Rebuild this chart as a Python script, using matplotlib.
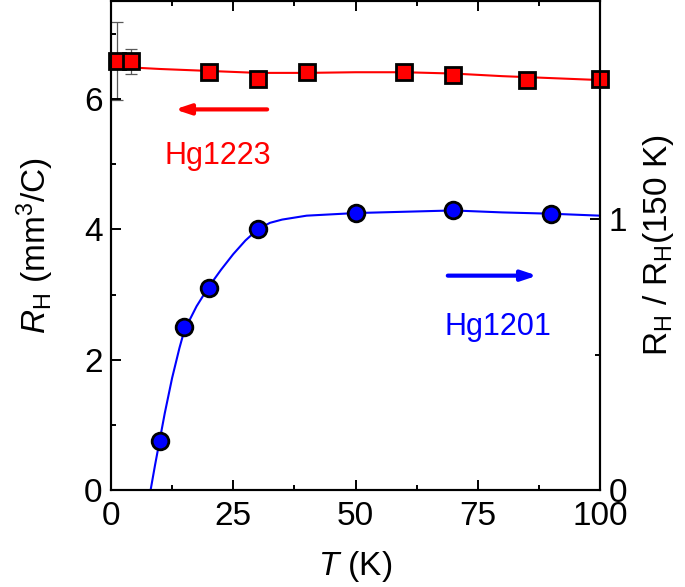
import matplotlib
matplotlib.use("Agg")
import matplotlib.pyplot as plt
from matplotlib.ticker import MultipleLocator, FixedLocator

plt.rcParams['font.family'] = ['Liberation Sans', 'DejaVu Sans']
plt.rcParams['mathtext.fontset'] = 'custom'
plt.rcParams['mathtext.rm'] = 'Liberation Sans'
plt.rcParams['mathtext.it'] = 'Liberation Sans:italic'

# Hg1223 (left axis, mm^3/C)
t_1223 = [1.2, 4.1, 20, 30, 40, 60, 70, 85, 100]
rh_1223 = [6.58, 6.58, 6.42, 6.31, 6.41, 6.42, 6.36, 6.29, 6.30]
err_1223 = [0.60, 0.19, 0, 0, 0, 0, 0, 0, 0]
fit_t_1223 = [0, 10, 20, 30, 40, 50, 60, 70, 80, 90, 100]
fit_rh_1223 = [6.50, 6.46, 6.43, 6.40, 6.40, 6.41, 6.41, 6.39, 6.35, 6.32, 6.29]

# Hg1201 (plotted on left scale; right axis normalized)
t_1201 = [10, 15, 20, 30, 50, 70, 90]
rh_1201 = [0.76, 2.50, 3.10, 4.01, 4.25, 4.30, 4.24]
fit_t_1201 = [8.1, 9, 10, 11, 12.5, 14, 15, 17.5, 20, 22.5, 25, 27.5, 30, 32.5, 35, 40, 50, 60, 70, 80, 90, 100]
fit_rh_1201 = [0.0, 0.38, 0.78, 1.18, 1.72, 2.18, 2.45, 2.82, 3.12, 3.38, 3.62, 3.83, 4.00, 4.10, 4.15, 4.21, 4.25, 4.27, 4.29, 4.26, 4.24, 4.21]

norm_ref = 4.16  # left-scale value corresponding to R_H/R_H(150 K) = 1

fig = plt.figure(figsize=(6.85, 5.87), dpi=100)
ax = fig.add_axes([0.162, 0.165, 0.714, 0.833])

ax.plot(fit_t_1223, fit_rh_1223, color=(1, 0, 0), lw=1.5, zorder=2)
ax.errorbar(t_1223[:2], rh_1223[:2], yerr=err_1223[:2], fmt='none', ecolor='0.35',
            elinewidth=0.9, capsize=4, capthick=0.9, zorder=1)
ax.plot(t_1223, rh_1223, 's', ms=11.5, mfc=(1, 0, 0), mec='black', mew=2, zorder=3, clip_on=False)

ax.plot(fit_t_1201, fit_rh_1201, color=(0, 0, 1), lw=1.5, zorder=2)
ax.plot(t_1201, rh_1201, 'o', ms=12, mfc=(0, 0, 1), mec='black', mew=2, zorder=3)

ax.set_xlim(0, 100)
ax.set_ylim(0, 7.5)
ax.xaxis.set_major_locator(MultipleLocator(25))
ax.xaxis.set_minor_locator(MultipleLocator(12.5))
ax.yaxis.set_major_locator(MultipleLocator(2))
ax.yaxis.set_minor_locator(MultipleLocator(1))
ax.tick_params(axis='both', which='major', direction='in', length=7, width=1.4,
               labelsize=24, top=True, right=False)
ax.tick_params(axis='both', which='minor', direction='in', length=3.5, width=1.4,
               top=True, right=False)
ax.tick_params(axis='x', pad=8)
ax.tick_params(axis='y', pad=6)
for s in ax.spines.values():
    s.set_linewidth(1.5)

ax.set_xlabel(r'$\it{T}$ (K)', fontsize=24, labelpad=12)
ax.set_ylabel(r'$\it{R}$$_\mathregular{H}$ (mm$^\mathregular{3}$/C)', fontsize=24, labelpad=20)

ax2 = ax.twinx()
ax2.set_ylim(0, 7.5 / norm_ref)
ax2.yaxis.set_major_locator(FixedLocator([0, 1]))
ax2.yaxis.set_minor_locator(FixedLocator([0.5]))
ax2.tick_params(axis='y', which='major', direction='in', length=7, width=1.4, labelsize=24, pad=6)
ax2.tick_params(axis='y', which='minor', direction='in', length=3.5, width=1.4)
for s in ax2.spines.values():
    s.set_linewidth(1.5)
ax2.set_ylabel(r'R$_\mathregular{H}$ / R$_\mathregular{H}$(150 K)', fontsize=24, labelpad=10)

# annotations
ax.annotate('', xy=(12.5, 5.84), xytext=(32.5, 5.84),
            arrowprops=dict(arrowstyle='-|>,head_length=0.9,head_width=0.3', color=(1, 0, 0), lw=3))
ax.text(21.9, 5.12, 'Hg1223', color=(1, 0, 0), fontsize=22, ha='center', va='center')
ax.annotate('', xy=(87.7, 3.29), xytext=(68.3, 3.29),
            arrowprops=dict(arrowstyle='-|>,head_length=0.9,head_width=0.3', color=(0, 0, 1), lw=3))
ax.text(79.1, 2.51, 'Hg1201', color=(0, 0, 1), fontsize=22, ha='center', va='center')

fig.savefig('out.png', dpi=100)
